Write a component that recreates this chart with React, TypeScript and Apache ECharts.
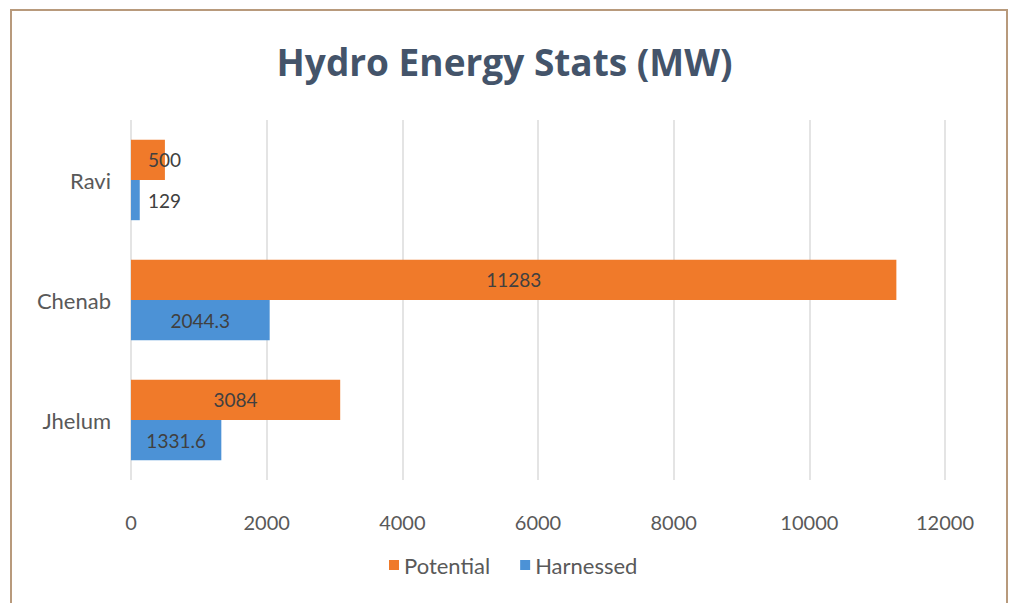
import React, { useEffect, useRef } from "react";
import * as echarts from "echarts";

const categories = ["Jhelum", "Chenab", "Ravi"];
const potential = [3084, 11283, 500];
const harnessed = [1331.6, 2044.3, 129];
const seriesNames = ["Potential", "Harnessed"];
const xTicks = { min: 0, max: 12000, interval: 2000 };
const smallBarIndex = 2; // Ravi: labels drawn beside the tiny bars

const FONT = "Lato, 'Open Sans', sans-serif";

export default function App() {
  const ref = useRef<HTMLDivElement>(null);
  useEffect(() => {
    document.body.style.margin = "0";
    const chart = echarts.init(ref.current!, undefined, { renderer: "svg" });
    const mkData = (vals: number[]) =>
      vals.map((v, i) =>
        i === smallBarIndex
          ? { value: v, label: { position: [17, "50%"], align: "left", verticalAlign: "middle" } }
          : v
      );
    const labelStyle = {
      show: true,
      position: "inside",
      color: "#404040",
      fontSize: 19,
      fontFamily: FONT,
    };
    chart.setOption({
      animation: false,
      backgroundColor: "#ffffff",
      title: {
        text: "Hydro Energy Stats (MW)",
        left: "center",
        top: 38,
        textStyle: { fontSize: 37, fontWeight: "bold", color: "#44546A", fontFamily: "'Open Sans', sans-serif" },
      },
      graphic: [
        {
          type: "rect",
          shape: { x: 11, y: 10, width: 996, height: 620 },
          style: { fill: "none", stroke: "#B89A7C", lineWidth: 2 },
          silent: true,
        },
      ],
      legend: {
        bottom: 22,
        left: 384,
        itemWidth: 10,
        itemHeight: 10,
        itemGap: 30,
        icon: "rect",
        textStyle: { fontSize: 22, color: "#595959", fontFamily: FONT },
        data: seriesNames,
      },
      grid: { left: 131, right: 64, top: 120, bottom: 123 },
      xAxis: {
        type: "value",
        min: xTicks.min,
        max: xTicks.max,
        interval: xTicks.interval,
        axisLine: { show: false },
        axisTick: { show: false },
        splitLine: { lineStyle: { color: "#E4E4E4", width: 2 } },
        axisLabel: {
          fontSize: 20,
          color: "#595959",
          margin: 32,
          fontFamily: FONT,
          formatter: (v: number) => String(v),
        },
      },
      yAxis: {
        type: "category",
        data: categories,
        axisLine: { show: false },
        axisTick: { show: false },
        axisLabel: { fontSize: 22, color: "#595959", margin: 20, fontFamily: FONT },
      },
      series: [
        {
          name: seriesNames[0],
          type: "bar",
          data: mkData(potential),
          itemStyle: { color: "#F07A2A" },
          barGap: "0%",
          barCategoryGap: "33%",
          label: labelStyle,
        },
        {
          name: seriesNames[1],
          type: "bar",
          data: mkData(harnessed),
          itemStyle: { color: "#4C92D6" },
          label: labelStyle,
        },
      ],
    });
    return () => chart.dispose();
  }, []);
  return <div ref={ref} style={{ position: "absolute", left: 0, top: 0, width: 1009, height: 603 }} />;
}
